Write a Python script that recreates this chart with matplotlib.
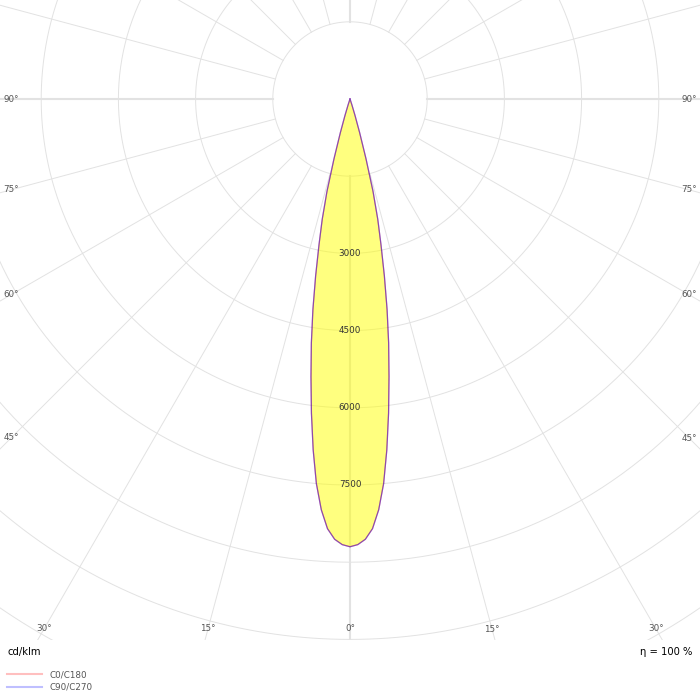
import numpy as np
import matplotlib.pyplot as plt
from matplotlib.lines import Line2D
from matplotlib.patches import Rectangle

# luminous intensity distribution (cd/klm) against gamma angle
gamma = [0, 1, 2, 3, 4, 5, 6, 7, 8, 9, 10, 11, 12, 13, 14, 15, 16, 17, 18, 19, 20]
c0_c180 = [8700, 8660, 8560, 8360, 8000, 7500, 6850, 6150, 5450, 4800, 4150,
           3500, 2900, 2400, 1850, 1200, 680, 330, 120, 30, 0]
c90_c270 = [8700, 8660, 8560, 8360, 8000, 7500, 6850, 6150, 5450, 4800, 4150,
            3500, 2900, 2400, 1850, 1200, 680, 330, 120, 30, 0]
ring_step = 1500
ring_labels = [3000, 4500, 6000, 7500]
angle_labels = [0, 15, 30, 45, 60, 75, 90]
legend_labels = ['C0/C180', 'C90/C270']
unit_text = 'cd/klm'
eff_text = 'η = 100 %'

W = 700
scale = 77.2 / ring_step     # px per cd/klm
cx, cy = 350, 99             # centre of diagram in px (from top)
rmax = 13500
R = rmax * scale

fig = plt.figure(figsize=(7, 7), dpi=100)
ax = fig.add_axes([(cx - R) / W, (W - cy - R) / W, 2 * R / W, 2 * R / W],
                  projection='polar')
ax.set_theta_zero_location('S')
ax.set_ylim(0, rmax)
ax.set_xticks([])
ax.set_yticks([])
ax.grid(False)
ax.spines['polar'].set_visible(False)

grid_col = '#e2e2e2'
full = np.linspace(0, 2 * np.pi, 721)
for r in range(ring_step, rmax, ring_step):
    ax.plot(full, np.full_like(full, r), color=grid_col, lw=0.7, zorder=1)
for a in range(0, 360, 15):
    lw = 1.5 if a % 90 == 0 else 0.7
    ax.plot([np.radians(a)] * 2, [ring_step, rmax], color=grid_col, lw=lw, zorder=1)


def mirror(g, vals):
    g = np.radians(g)
    th = np.concatenate([-g[::-1], g[1:]])
    r = np.concatenate([np.array(vals)[::-1], np.array(vals)[1:]])
    return th, r


th0, r0 = mirror(gamma, c0_c180)
th90, r90 = mirror(gamma, c90_c270)
ax.fill(th0, r0, color='#ffff00', alpha=0.5, lw=0, zorder=2)
ax.plot(th0, r0, color='#ff0000', alpha=0.45, lw=0.9, zorder=3)
ax.plot(th90, r90, color='#0000ff', alpha=0.45, lw=0.9, zorder=3)

for v in ring_labels:
    ax.text(0, v, f'{v}', ha='center', va='center', fontsize=6.3, color='#333333', zorder=4)

# angle labels sit where the radial lines cross an inner frame
side, bottom = 339, 530
for a in angle_labels:
    t = np.radians(a)
    if a == 0:
        rp = bottom
    else:
        rp = min(side / np.sin(t), bottom / np.cos(t) if np.cos(t) > 1e-9 else 1e9)
    for s in ([1] if a == 0 else [-1, 1]):
        ax.text(s * t, rp / scale, f'{a}°', ha='center', va='center',
                fontsize=6.3, color='#555555', zorder=4)

# clip the diagram at the bottom
fig.add_artist(Rectangle((0, 0), 1, 60 / W, transform=fig.transFigure,
                         facecolor='white', edgecolor='none', zorder=5))

fig.text(7 / W, 1 - 652 / W, unit_text, fontsize=7.2, va='center', zorder=6)
fig.text(692 / W, 1 - 652 / W, eff_text, fontsize=7.2, va='center', ha='right', zorder=6)

handles = [Line2D([], [], color='#ff0000', alpha=0.25, lw=1.5),
           Line2D([], [], color='#0000ff', alpha=0.25, lw=1.5)]
leg = fig.legend(handles, legend_labels, loc='upper left',
                 bbox_to_anchor=(7 / W, 1 - 670 / W),
                 frameon=False, fontsize=6.3, handlelength=4.0, handletextpad=0.8,
                 labelspacing=0.45, borderaxespad=0.0, borderpad=0.0)
leg.set_zorder(6)
for txt in leg.get_texts():
    txt.set_color('#555555')

fig.savefig('out.png', dpi=100)
